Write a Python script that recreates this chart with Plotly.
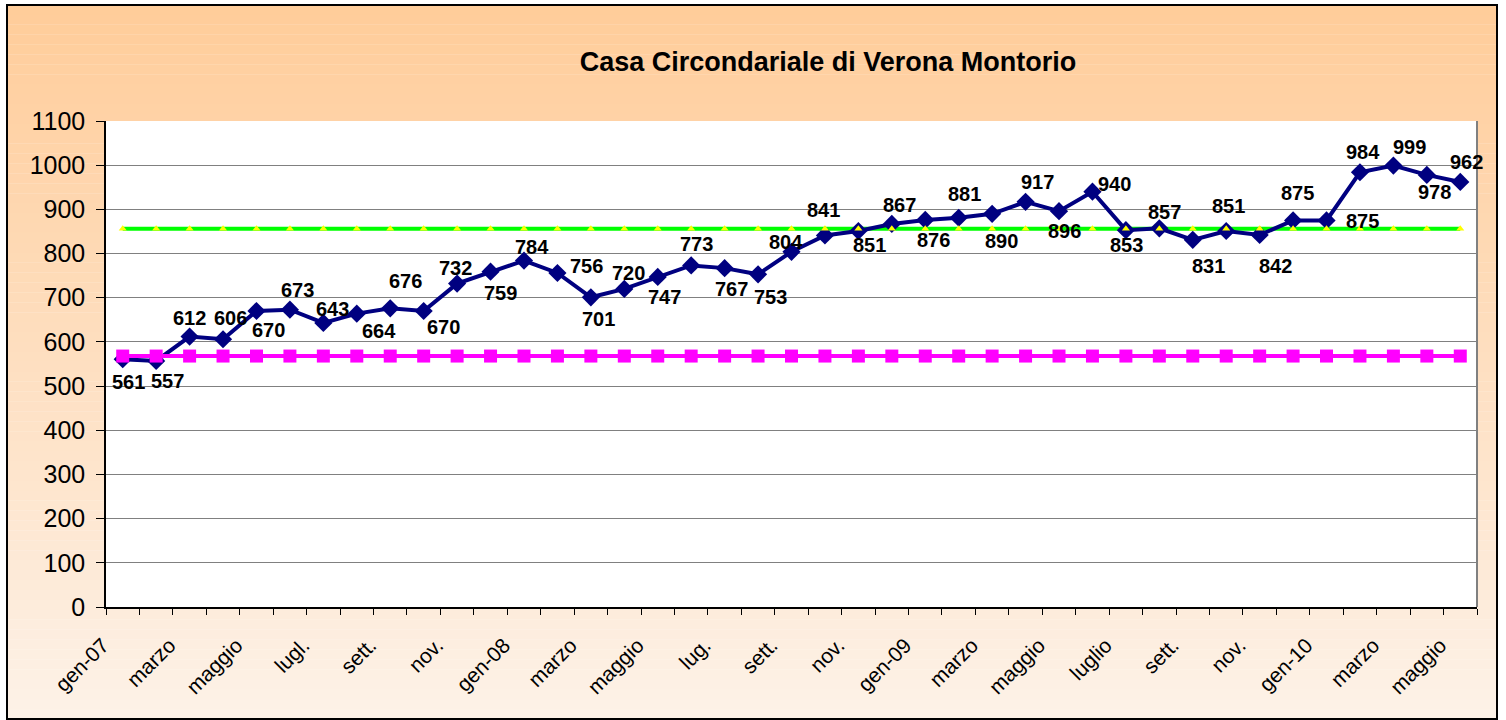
import plotly.graph_objects as go

# ---- data ----
months = ["gen-07", "feb", "marzo", "apr", "maggio", "giu", "lugl.", "ago", "sett.", "ott", "nov.", "dic",
          "gen-08", "feb", "marzo", "apr", "maggio", "giu", "lug.", "ago", "sett.", "ott", "nov.", "dic",
          "gen-09", "feb", "marzo", "apr", "maggio", "giu", "luglio", "ago", "sett.", "ott", "nov.", "dic",
          "gen-10", "feb", "marzo", "apr", "maggio"]
presenze = [561, 557, 612, 606, 670, 673, 643, 664, 676, 670, 732, 759, 784, 756, 701, 720, 747, 773, 767, 753,
            804, 841, 851, 867, 876, 881, 890, 917, 896, 940, 853, 857, 831, 851, 842, 875, 875, 984, 999, 978, 962]
capienza_regolamentare = 568
capienza_tollerabile = 856

# label offsets in pixels (dx right, dy down) - style only
label_offsets = [(6, 23), (11, 20), (0, -19), (7, -21), (12, 19), (8, -20), (9, -14), (22, 17), (15, -27),
                 (20, 16), (-2, -16), (10, 21), (8, -14), (29, -7), (8, 22), (4, -16), (7, 20), (5, -21),
                 (7, 21), (12, 23), (-6, -10), (-1, -25), (11, 14), (8, -19), (8, 20), (6, -24), (9, 27),
                 (12, -20), (5, 20), (22, -8), (1, 15), (5, -16), (16, 26), (2, -25), (16, 31), (4, -27),
                 (36, 1), (3, -20), (16, -19), (8, 17), (6, -20)]

n = len(presenze)
xs = list(range(n))
tickvals = xs[::2]
ticktext = months[::2]

FONT = "Liberation Sans, Arial, sans-serif"

fig = go.Figure()

fig.add_trace(go.Scatter(x=xs, y=[capienza_tollerabile] * n, mode="lines",
                         line=dict(color="#00FF00", width=4), hoverinfo="skip", showlegend=False))
fig.add_trace(go.Scatter(x=xs, y=presenze, mode="lines+markers",
                         line=dict(color="#000080", width=4),
                         marker=dict(symbol="diamond", size=14, color="#000080"),
                         showlegend=False))
fig.add_trace(go.Scatter(x=xs, y=[capienza_regolamentare] * n, mode="lines+markers",
                         line=dict(color="#FF00FF", width=4),
                         marker=dict(symbol="square", size=13, color="#FF00FF"),
                         showlegend=False))
fig.add_trace(go.Scatter(x=xs, y=[capienza_tollerabile] * n, mode="markers",
                         marker=dict(symbol="triangle-up", size=7, color="#FFFF00"),
                         hoverinfo="skip", showlegend=False))

annotations = []
for i, v in enumerate(presenze):
    dx, dy = label_offsets[i]
    annotations.append(dict(x=i, y=v, xref="x", yref="y", text=str(v), showarrow=False,
                            xshift=dx, yshift=-dy, xanchor="center", yanchor="middle",
                            font=dict(family=FONT, size=20, color="black", weight="bold")))

# background gradient (peach to light)
L, T, PW, PH = 106, 121, 1371.0, 486.0
def px_x(p):
    return (p - L) / PW
def px_y(p):
    return (T + PH - p) / PH

shapes = []
top_c = (255, 204, 153)
bot_c = (253, 242, 232)
H = 720.0
y0p, y1p = 5, 719
steps = 72
for k in range(steps):
    a = y0p + (y1p - y0p) * k / steps
    b = y0p + (y1p - y0p) * (k + 1) / steps
    t = (a + b) / 2 / H
    c = tuple(round(top_c[j] + (bot_c[j] - top_c[j]) * t) for j in range(3))
    shapes.append(dict(type="rect", xref="paper", yref="paper", layer="below",
                       x0=px_x(7), x1=px_x(1497), y0=px_y(b), y1=px_y(a) + 0.0005,
                       line=dict(width=0), fillcolor="rgb(%d,%d,%d)" % c))
shapes.append(dict(type="rect", xref="paper", yref="paper", layer="below", x0=0, x1=1, y0=0, y1=1,
                   line=dict(width=0), fillcolor="white"))
shapes.append(dict(type="rect", xref="paper", yref="paper", layer="below",
                   x0=px_x(7), x1=px_x(1497), y0=px_y(719), y1=px_y(5),
                   line=dict(width=2, color="black"), fillcolor="rgba(0,0,0,0)"))
shapes.append(dict(type="line", xref="paper", yref="paper", x0=1, x1=1, y0=0, y1=1,
                   line=dict(width=2, color="#808080")))

fig.update_layout(
    width=1506, height=720,
    margin=dict(l=106, r=29, t=121, b=113),
    paper_bgcolor="white", plot_bgcolor="white",
    font=dict(family=FONT, color="black"),
    title=dict(text="<b>Casa Circondariale di Verona Montorio</b>", x=828 / 1506, xanchor="center",
               xref="container", y=1 - 62 / 720, yref="container", yanchor="middle",
               font=dict(family=FONT, size=27, color="black")),
    annotations=annotations,
    shapes=shapes,
    xaxis=dict(range=[-0.5, n - 0.5], tickmode="array", tickvals=tickvals, ticktext=ticktext,
               tickangle=-45, ticks="", showgrid=False, zeroline=False,
               showline=True, linecolor="black", linewidth=1.5,
               ticklabelshift=-20, ticklabelstandoff=16,
               tickfont=dict(family=FONT, size=21, color="black"),
               minor=dict(tickmode="linear", tick0=-0.5, dtick=1, ticks="outside", ticklen=6,
                          tickcolor="black", tickwidth=1, showgrid=False)),
    yaxis=dict(range=[0, 1100], tickmode="linear", tick0=0, dtick=100,
               ticks="outside", ticklen=8, tickcolor="black", ticklabelstandoff=6,
               showgrid=True, gridcolor="#808080", gridwidth=1, zeroline=False,
               showline=True, linecolor="black", linewidth=1.5,
               tickfont=dict(family=FONT, size=25, color="black")),
)

fig.write_html("out.html", config={"displayModeBar": False},
               post_script="document.body.style.margin='0';")
